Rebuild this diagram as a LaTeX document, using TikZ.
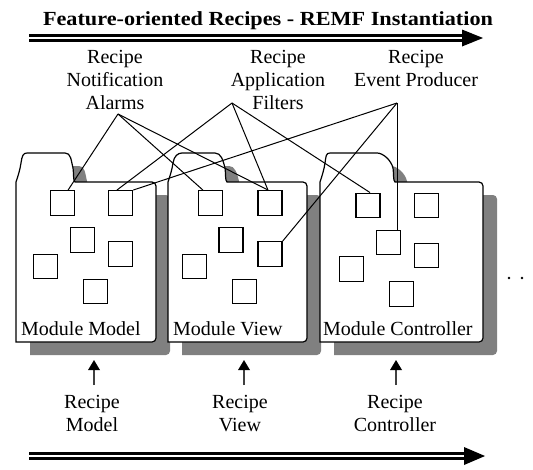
\documentclass[tikz,border=0pt]{standalone}
\usepackage{fontspec}
\setmainfont{Liberation Serif}
\usetikzlibrary{calc}

\definecolor{shadowgray}{RGB}{128,128,128}

\tikzset{
  folderline/.style={draw=black, line width=1.2pt, fill=white},
  slot/.style={draw=black, fill=white, line width=1.4pt, inner sep=0pt,
               minimum width=24pt, minimum height=24.5pt},
  wire/.style={draw=black, line width=1pt},
  lbl/.style={font=\fontsize{20}{23}\selectfont, inner sep=0pt, align=center},
  modname/.style={font=\fontsize{20}{23}\selectfont, inner sep=0pt, anchor=base west},
  dblshaft/.style={draw=black, line width=3pt, double=white, double distance=1.1pt},
  upshaft/.style={draw=black!75, line width=1.6pt},
}

% folder outline: #1 left, #2 right, #3 top, #4 bottom,
% #5 start of tab top, #6 end of tab top, #7 end of tab (offsets from left)
\newcommand\drawfolder[7]{%
  \def\fp{(#1,#4) -- (#1,#3)
    .. controls (#1+2,#3-6) and (#1+4,#3-12) .. (#1+5,#3-19)
    .. controls (#1+6,#3-26) and (#1+#5-4,#3-29) .. (#1+#5,#3-29)
    -- (#1+#6,#3-29)
    .. controls (#1+#6+6,#3-29) and (#1+#7-4,#3-22) .. (#1+#7-2,#3-14)
    .. controls (#1+#7-1,#3-6) and (#1+#7-2,#3-2) .. (#1+#7,#3)
    [rounded corners=4pt] -- (#2,#3) -- (#2,#4) [sharp corners] -- cycle}%
  \fill[shadowgray, shift={(14,13)}] \fp;
  \path[folderline] \fp;
}

\begin{document}
\begin{tikzpicture}[x=1pt, y=-1pt]
\useasboundingbox (0,0) rectangle (533,469);

% title and top arrow
\node[anchor=base, inner sep=0pt] (title) at (268,25)
  {\fontsize{20}{23}\selectfont\resizebox{450pt}{\height}{\bfseries Feature-oriented Recipes - REMF Instantiation}};
\coordinate (topstart) at (29,38);
\coordinate (tophead) at (464,38);
\coordinate (toptip) at (483,38);
\draw[dblshaft] (topstart) -- (tophead);
\fill (462,29.5) -- (toptip) -- (462,46.5) -- cycle;

% recipe labels on top (anchor = baseline of the last line)
\node[lbl, anchor=base] (alarms) at (115,109) {Recipe\\Notification\\Alarms};
\node[lbl, anchor=base] (filters) at (278,109) {Recipe\\Application\\Filters};
\node[lbl, anchor=base] (producer) at (416,86) {Recipe\\Event Producer};
\coordinate (alarmsfoot) at (118,114);
\coordinate (filtersfoot) at (232,103);
\coordinate (producerfoot) at (397,103);

% modules
\drawfolder{16}{156}{182}{342}{11}{49}{59}
\drawfolder{168}{307}{182}{342}{14}{47}{59}
\drawfolder{320}{483}{182}{342}{10}{57}{75}

% slots of Module Model
\node[slot] (m1) at (62.5,203) {};
\node[slot] (m2) at (120.5,203) {};
\node[slot] (m3) at (82.5,240) {};
\node[slot] (m4) at (120.5,254) {};
\node[slot] (m5) at (45.5,266.5) {};
\node[slot] (m6) at (95.5,291.5) {};
% slots of Module View
\node[slot] (v1) at (210.5,203) {};
\node[slot] (v2) at (270,203) {};
\node[slot] (v3) at (231,240) {};
\node[slot] (v4) at (270,254) {};
\node[slot] (v5) at (194.5,266.5) {};
\node[slot] (v6) at (244.5,291.5) {};
% slots of Module Controller
\node[slot] (c1) at (368,205.5) {};
\node[slot] (c2) at (426.5,205.5) {};
\node[slot] (c3) at (388.5,242.5) {};
\node[slot] (c4) at (426.5,255.5) {};
\node[slot] (c5) at (351.5,269) {};
\node[slot] (c6) at (401.5,294) {};

\node[modname] (mname) at (21,335) {Module Model};
\node[modname] (vname) at (173,335) {Module View};
\node[modname] (cname) at (323,335) {Module Controller};

% feature wiring
\draw[wire] (alarmsfoot) -- ($(m1.north west)!0.72!(m1.north east)$);
\draw[wire] (alarmsfoot) -- ($(v1.north west)!0.2!(v1.north east)$);
\draw[wire] (alarmsfoot) -- ($(v2.north west)!0.42!(v2.north east)$);
\draw[wire] (filtersfoot) -- ($(m2.north west)!0.36!(m2.north east)$);
\draw[wire] (filtersfoot) -- ($(v2.north west)!0.42!(v2.north east)$);
\draw[wire] (filtersfoot) -- ($(c1.north west)!0.58!(c1.north east)$);
\draw[wire] (producerfoot) -- (m2.north east);
\draw[wire] (producerfoot) -- (v4.north east);
\draw[wire] (producerfoot) -- (c3.north -| producerfoot);

% continuation dots
\fill (509,278) circle (1.3);
\fill (522,278) circle (1.3);

% recipes below (anchor = baseline of the last line)
\node[lbl, anchor=base] (rmodel) at (92,431) {Recipe\\Model};
\node[lbl, anchor=base] (rview) at (240,431) {Recipe\\View};
\node[lbl, anchor=base] (rctrl) at (395,431) {Recipe\\Controller};
\coordinate (mtip) at (94,360);
\coordinate (vtip) at (244,360);
\coordinate (ctip) at (396,360);
\foreach \t in {mtip,vtip,ctip}{
  \draw[upshaft] ($(\t)+(0,25)$) -- ($(\t)+(0,8)$);
  \fill ($(\t)+(-6,10)$) -- (\t) -- ($(\t)+(6,10)$) -- cycle;
}

% bottom arrow
\coordinate (botstart) at (29,456);
\coordinate (bothead) at (466,456);
\coordinate (bottip) at (485,456);
\draw[dblshaft] (botstart) -- (bothead);
\fill (464,447) -- (bottip) -- (464,465) -- cycle;
\end{tikzpicture}
\end{document}
